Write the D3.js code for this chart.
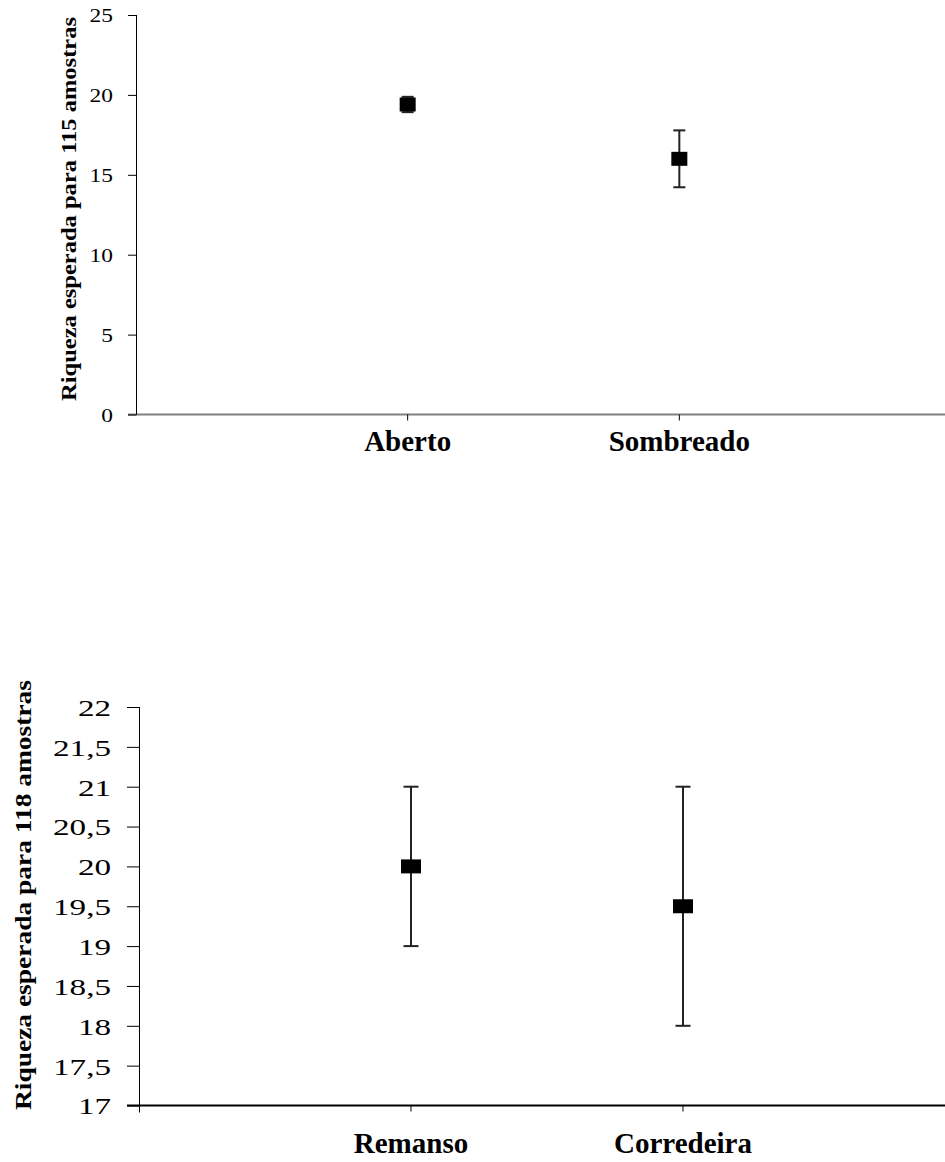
<!DOCTYPE html>
<html>
<head>
<meta charset="utf-8">
<script src="https://cdn.jsdelivr.net/npm/d3@7"></script>
<style>
  html, body { margin: 0; padding: 0; background: #fff; }
  svg { display: block; }
  text { font-family: "Liberation Serif", "Times New Roman", serif; fill: #000; }
</style>
</head>
<body>
<div id="chart"></div>
<script>
// ---- Data ----
const topCategories = ["Aberto", "Sombreado"];
const topValues = [19.4, 16.0];
const topErrors = [0.48, 1.78];
const topTicks = [0, 5, 10, 15, 20, 25];
const topTickLabels = ["0", "5", "10", "15", "20", "25"];
const topYLabel = "Riqueza esperada para 115 amostras";

const botCategories = ["Remanso", "Corredeira"];
const botValues = [20.0, 19.5];
const botErrors = [1.0, 1.5];
const botTicks = [17, 17.5, 18, 18.5, 19, 19.5, 20, 20.5, 21, 21.5, 22];
const botTickLabels = ["17", "17,5", "18", "18,5", "19", "19,5", "20", "20,5", "21", "21,5", "22"];
const botYLabel = "Riqueza esperada para 118 amostras";

const W = 945, H = 1162;
const svg = d3.select("#chart").append("svg").attr("width", W).attr("height", H);

function panel(cfg) {
  const g = svg.append("g");
  const y = d3.scaleLinear().domain(cfg.yDomain).range([cfg.y0, cfg.y1]);
  const x = d3.scalePoint().domain(cfg.categories).range([cfg.xAxis, cfg.xEnd]).padding(1);

  // x axis line
  g.append("line")
    .attr("x1", cfg.xAxis - cfg.tickLen).attr("x2", W)
    .attr("y1", y(cfg.yDomain[0])).attr("y2", y(cfg.yDomain[0]))
    .attr("stroke", cfg.xAxisColor).attr("stroke-width", 2);

  // y axis
  const yAxis = d3.axisLeft(y).tickValues(cfg.ticks)
    .tickFormat((d, i) => cfg.tickLabels[i]).tickSize(cfg.tickLen).tickPadding(0);
  const ya = g.append("g").attr("transform", `translate(${cfg.xAxis},0)`).call(yAxis);
  ya.select(".domain").attr("stroke", "#000").attr("stroke-width", 1)
    .attr("d", `M0.5,${cfg.y1}V${cfg.y0 + cfg.axisExt}`);
  ya.selectAll(".tick line").attr("stroke", "#000").attr("x1", 0.5).attr("x2", -cfg.tickLen);
  ya.selectAll(".tick text")
    .attr("x", 0).attr("dy", "0.35em")
    .attr("transform", `translate(${-cfg.tickLen - cfg.labelGap},0) scale(${cfg.tickScaleX},1)`)
    .style("font-family", '"Liberation Serif", serif')
    .style("font-size", cfg.tickFont + "px");

  // category ticks + labels
  const xa = g.append("g");
  xa.selectAll("line.ct").data(cfg.categories).join("line")
    .attr("class", "ct")
    .attr("x1", d => x(d)).attr("x2", d => x(d))
    .attr("y1", y(cfg.yDomain[0])).attr("y2", y(cfg.yDomain[0]) + 6)
    .attr("stroke", "#000").attr("stroke-width", 1);
  xa.selectAll("text.cl").data(cfg.categories).join("text")
    .attr("class", "cl")
    .attr("x", d => x(d)).attr("y", cfg.catBaseline)
    .attr("text-anchor", "middle")
    .style("font-weight", "bold").style("font-size", cfg.catFont + "px")
    .text(d => d);

  // y label
  g.append("text")
    .attr("transform", `translate(${cfg.yLabelX},${cfg.yLabelY}) rotate(-90)`)
    .attr("text-anchor", "middle")
    .attr("textLength", cfg.yLabelLen).attr("lengthAdjust", "spacingAndGlyphs")
    .style("font-weight", "bold").style("font-size", cfg.yLabelFont + "px")
    .text(cfg.yLabel);

  // error bars
  const data = cfg.categories.map((c, i) => ({c, v: cfg.values[i], e: cfg.errors[i]}));
  const eb = g.append("g");
  eb.selectAll("line.v").data(data).join("line").attr("class", "v")
    .attr("x1", d => x(d.c)).attr("x2", d => x(d.c))
    .attr("y1", d => y(d.v + d.e)).attr("y2", d => y(d.v - d.e))
    .attr("stroke", "#222").attr("stroke-width", 2);
  eb.selectAll("line.cu").data(data).join("line").attr("class", "cu")
    .attr("x1", d => x(d.c) - cfg.capW / 2).attr("x2", d => x(d.c) + cfg.capW / 2)
    .attr("y1", d => y(d.v + d.e)).attr("y2", d => y(d.v + d.e))
    .attr("stroke", "#222").attr("stroke-width", 2);
  eb.selectAll("line.cd").data(data).join("line").attr("class", "cd")
    .attr("x1", d => x(d.c) - cfg.capW / 2).attr("x2", d => x(d.c) + cfg.capW / 2)
    .attr("y1", d => y(d.v - d.e)).attr("y2", d => y(d.v - d.e))
    .attr("stroke", "#222").attr("stroke-width", 2);

  // markers
  g.selectAll("rect.m").data(data).join("rect").attr("class", "m")
    .attr("x", d => x(d.c) - cfg.mW / 2).attr("y", d => y(d.v) - cfg.mH / 2)
    .attr("width", cfg.mW).attr("height", cfg.mH)
    .attr("fill", "#000");
}

panel({
  categories: topCategories, values: topValues, errors: topErrors,
  ticks: topTicks, tickLabels: topTickLabels, yLabel: topYLabel,
  yDomain: [0, 25], y0: 414.5, y1: 15, xAxis: 136, xEnd: 951,
  xAxisColor: "#808080", tickLen: 8, labelGap: 15, tickScaleX: 1.2, tickFont: 19.5,
  axisExt: 0, catBaseline: 451, catFont: 29,
  yLabelX: 76, yLabelY: 209, yLabelLen: 384, yLabelFont: 21,
  capW: 12, mW: 16, mH: 14
});

panel({
  categories: botCategories, values: botValues, errors: botErrors,
  ticks: botTicks, tickLabels: botTickLabels, yLabel: botYLabel,
  yDomain: [17, 22], y0: 1105.5, y1: 707, xAxis: 139, xEnd: 955,
  xAxisColor: "#000", tickLen: 12, labelGap: 16, tickScaleX: 1.38, tickFont: 24,
  axisExt: 7, catBaseline: 1153, catFont: 29,
  yLabelX: 31, yLabelY: 895, yLabelLen: 430, yLabelFont: 23,
  capW: 15, mW: 20, mH: 14
});
</script>
</body>
</html>
